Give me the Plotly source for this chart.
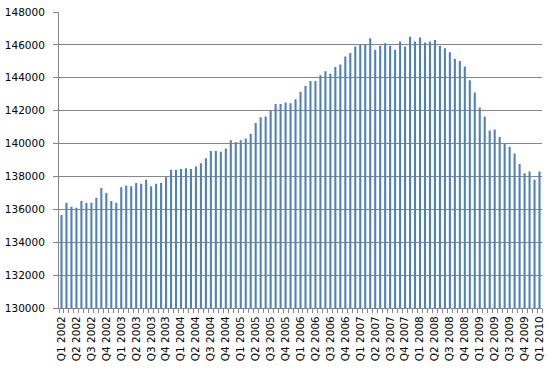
import plotly.graph_objects as go

# Monthly values, Jan 2002 .. Jan 2010
values = [
    135650, 136400, 136150, 136100, 136500, 136400, 136400, 136700, 137300, 137000, 136500, 136400,
    137350, 137450, 137400, 137600, 137550, 137800, 137400, 137550, 137600, 137950, 138400, 138400,
    138450, 138500, 138450, 138600, 138800, 139100, 139550, 139550, 139500, 139700, 140200, 140100,
    140200, 140300, 140600, 141250, 141600, 141650, 142000, 142400, 142400, 142500, 142450, 142700,
    143150, 143500, 143800, 143800, 144150, 144400, 144250, 144650, 144800, 145300, 145500, 145900,
    146000, 146000, 146400, 145700, 145950, 146100, 145950, 145700, 146200, 145900, 146500, 146200,
    146450, 146150, 146200, 146300, 145950, 145800, 145550, 145150, 145020, 144680, 143850, 143100,
    142200, 141650, 140800, 140850, 140400, 140000, 139800, 139400, 138750, 138200, 138300, 137800,
    138300,
]
years = list(range(2002, 2011))
quarter_labels = [f"Q{q} {y}" for y in years for q in (1, 2, 3, 4)][:33]
month_index = list(range(len(values)))
label_positions = month_index[::3]

y_ticks = list(range(130000, 148001, 2000))

GRAY = "#868686"
FONT = dict(family="DejaVu Sans", size=10.5, color="#000000")

fig = go.Figure(
    go.Bar(x=month_index, y=values, marker=dict(color="#4F81BD", line=dict(width=0)))
)
fig.update_layout(
    width=549, height=368,
    margin=dict(l=59, r=7, t=12, b=60, autoexpand=False),
    paper_bgcolor="white", plot_bgcolor="white",
    bargap=0.58, showlegend=False,
    font=FONT,
)
fig.update_xaxes(
    range=[-0.5, len(values) - 0.5], automargin=False,
    tickmode="array", tickvals=label_positions, ticktext=quarter_labels,
    tickangle=-90, ticks="", ticklabelstandoff=3, ticklabeloverflow="allow",
    showline=True, linecolor=GRAY, linewidth=1,
    showgrid=False, zeroline=False, tickfont=FONT,
    minor=dict(ticks="outside", tick0=-0.5, dtick=1, ticklen=4, tickcolor=GRAY, showgrid=False),
)
fig.update_yaxes(
    range=[130000, 148000], automargin=False,
    tickmode="array", tickvals=y_ticks, ticktext=[str(v) for v in y_ticks],
    ticks="outside", ticklen=5, tickcolor=GRAY, ticklabelstandoff=6, ticklabeloverflow="allow",
    showline=True, linecolor=GRAY, linewidth=1,
    showgrid=True, gridcolor=GRAY, gridwidth=1, zeroline=False, tickfont=FONT,
)
fig.write_html(
    "out.html",
    config={"displayModeBar": False},
    post_script="document.body.style.margin='0';document.body.style.overflow='hidden';",
)
